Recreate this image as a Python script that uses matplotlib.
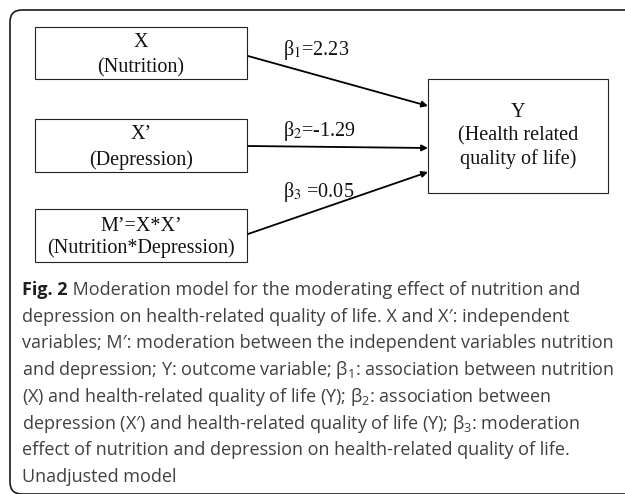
import matplotlib
matplotlib.use("Agg")
import matplotlib.pyplot as plt
from matplotlib.patches import Rectangle, FancyBboxPatch

plt.rcParams['mathtext.fontset'] = 'custom'
plt.rcParams['mathtext.rm'] = 'Open Sans'
plt.rcParams['mathtext.it'] = 'Open Sans:italic'

# diagram content
predictor_labels = ["X\n(Nutrition)", "X\u2019\n(Depression)",
                    "M\u2019=X*X\u2019\n(Nutrition*Depression)"]
outcome_label = "Y\n(Health related\nquality of life)"
betas = ["2.23", "-1.29", "0.05"]
beta_names = [r"β$_1$=", r"β$_2$=", r"β$_3$ ="]

caption_lines = [
    " Moderation model for the moderating effect of nutrition and",
    "depression on health-related quality of life. X and X\u2032: independent",
    "variables; M\u2032: moderation between the independent variables nutrition",
    r"and depression; Y: outcome variable; β$_1$: association between nutrition",
    r"(X) and health-related quality of life (Y); β$_2$: association between",
    r"depression (X$\prime$) and health-related quality of life (Y); β$_3$: moderation",
    "effect of nutrition and depression on health-related quality of life.",
    "Unadjusted model",
]

# layout (pixels)
W, H = 625, 494
pred_boxes = [(35, 27, 212, 52), (35, 119, 212, 53), (35, 209, 212, 53)]
pred_spacing = [1.45, 1.45, 1.1]
out_box = (428, 79, 180, 114)
arrow_start_y = [56, 146, 234]
arrow_end_y = [106, 148, 172]
label_y = [55, 136, 197]

fig = plt.figure(figsize=(W / 100, H / 100), dpi=100)
ax = fig.add_axes([0, 0, 1, 1])
ax.set_xlim(0, W)
ax.set_ylim(H, 0)
ax.axis('off')

# outer frame
frame = FancyBboxPatch((10, 10), 660, 484, boxstyle="round,pad=0,rounding_size=12",
                       fill=False, lw=1.2, ec='#1a1a1a')
ax.add_patch(frame)

serif = 'Liberation Serif'
for (x, y, w, h), lab, ls in zip(pred_boxes, predictor_labels, pred_spacing):
    ax.add_patch(Rectangle((x, y), w, h, fill=False, lw=0.8, ec='#222222'))
    ax.text(x + w / 2, y + h / 2 + 2, lab, ha='center', va='center',
            family=serif, fontsize=14.5, linespacing=ls, color='#111111')

x, y, w, h = out_box
ax.add_patch(Rectangle((x, y), w, h, fill=False, lw=0.8, ec='#222222'))
ax.text(x + w / 2, y + h / 2, outcome_label, ha='center', va='center',
        family=serif, fontsize=14.5, linespacing=1.3, color='#111111')

for i in range(3):
    ax.annotate("", xy=(out_box[0], arrow_end_y[i]),
                xytext=(pred_boxes[i][0] + pred_boxes[i][2] + 1, arrow_start_y[i]),
                arrowprops=dict(arrowstyle='-|>', lw=1.3, color='black',
                                mutation_scale=9, shrinkA=0, shrinkB=0))
    ax.text(283, label_y[i], beta_names[i] + betas[i], ha='left', va='baseline',
            family=serif, fontsize=14.5, math_fontfamily='stix', color='#111111')

# caption
cap_font = 'Open Sans'
cap_size = 13.0
cap_color = '#404040'
base0 = 295
step = 26.7
t0 = ax.text(22, base0, "Fig. 2", ha='left', va='baseline', family=cap_font,
             fontsize=cap_size, fontweight='bold', color='#1e1e1e')
ax.annotate(caption_lines[0], xy=(1, 0), xycoords=t0, va='bottom', ha='left',
            family=cap_font, fontsize=cap_size, color=cap_color)
for i, line in enumerate(caption_lines[1:], start=1):
    ax.text(22, base0 + step * i, line, ha='left', va='baseline', family=cap_font,
            fontsize=cap_size, color=cap_color)

fig.savefig("out.png", dpi=100)
